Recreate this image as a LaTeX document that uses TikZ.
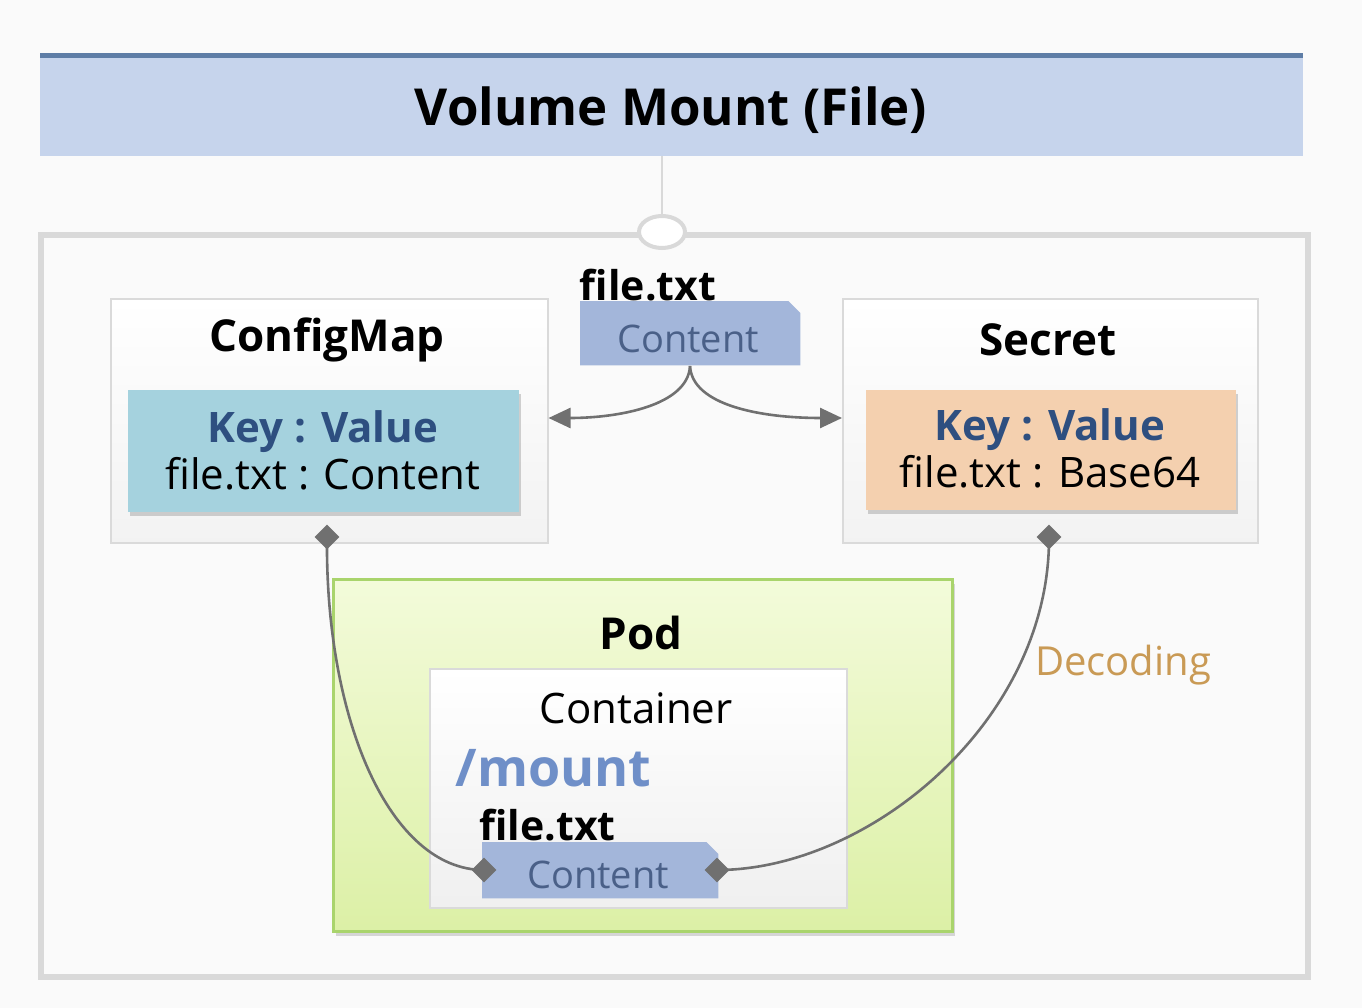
\documentclass[tikz,border=0pt]{standalone}
\usepackage{fontspec}
\setmainfont{Open Sans}
\usetikzlibrary{shapes.geometric,shadows,arrows.meta}
\definecolor{bg}{HTML}{FAFAFA}
\definecolor{titlefill}{HTML}{C6D4EC}
\definecolor{titleline}{HTML}{5E7DA6}
\definecolor{framecol}{HTML}{D9D9D9}
\definecolor{boxborder}{HTML}{DADADA}
\definecolor{tealfill}{HTML}{A5D2DE}
\definecolor{peachfill}{HTML}{F4D0AF}
\definecolor{keyblue}{HTML}{2E4F80}
\definecolor{contentfill}{HTML}{A3B6DA}
\definecolor{contenttext}{HTML}{4A6088}
\definecolor{conn}{HTML}{707070}
\definecolor{podtop}{HTML}{F3FBDA}
\definecolor{podbot}{HTML}{DCF0A6}
\definecolor{podborder}{HTML}{A9D46C}
\definecolor{mountblue}{HTML}{6F8FC8}
\definecolor{decod}{HTML}{C99A55}
\tikzset{
  panel/.style={draw=boxborder, line width=1.5pt, top color=white, bottom color=black!5, anchor=north west, inner sep=0pt},
  kvbox/.style={anchor=north west, inner sep=0pt, drop shadow={shadow xshift=2pt, shadow yshift=-4pt, opacity=0.35}},
  contentbox/.style={inner sep=0pt, anchor=north west},
  conline/.style={draw=conn, line width=2.6pt},
  dia/.style={diamond, fill=conn, minimum size=25pt, inner sep=0pt},
  bigbold/.style={font=\fontsize{44}{48}\selectfont\bfseries},
  kvtext/.style={font=\fontsize{42}{47}\selectfont, align=center},
}
\newcommand{\snipfill}[1]{\fill[contentfill] (#1.north west) -- ([xshift=-12pt]#1.north east) -- ([yshift=-12pt]#1.north east) -- (#1.south east) -- (#1.south west) -- cycle;}
\begin{document}
\begin{tikzpicture}[x=1pt,y=-1pt]
\useasboundingbox (0,0) rectangle (1362,1008);
\fill[bg] (0,0) rectangle (1362,1008);
% title
\node[fill=titlefill, minimum width=1263pt, minimum height=100pt, anchor=north west, inner sep=0pt] (title) at (40,56) {};
\draw[titleline, line width=5pt] (40,56) -- (1303,56);
\node[font=\fontsize{51}{54}\selectfont\bfseries] (titletext) at (671,110) {Volume Mount (File)};
% outer frame
\node[draw=framecol, line width=6pt, fill=bg, minimum width=1267pt, minimum height=742pt, anchor=north west, inner sep=0pt] (frame) at (38,232) {};
\draw[framecol, line width=2pt] (title.south -| 662,0) -- (662,217);
\node[ellipse, draw=framecol, line width=4pt, fill=white, minimum width=46pt, minimum height=32pt, inner sep=0pt] (port) at (662,232) {};
% ConfigMap
\node[panel, minimum width=437pt, minimum height=244pt] (cm) at (110,298) {};
\node[bigbold] (cmtitle) at (327,340) {ConfigMap};
\node[kvbox, fill=tealfill, minimum width=391pt, minimum height=122pt] (cmkv) at (128,390) {};
\node[kvtext] (cmkvtext) at (323,450) {\textcolor{keyblue}{\bfseries Key : Value}\\ file.txt : Content};
% Secret
\node[panel, minimum width=415pt, minimum height=244pt] (sec) at (842,298) {};
\node[bigbold] (sectitle) at (1048,340) {Secret};
\node[kvbox, fill=peachfill, minimum width=370pt, minimum height=120pt] (seckv) at (866,390) {};
\node[kvtext] (seckvtext) at (1050,448) {\textcolor{keyblue}{\bfseries Key : Value}\\ file.txt : Base64};
% top file
\node[font=\fontsize{41}{44}\selectfont\bfseries] (topfile) at (648,285) {file.txt};
\node[contentbox, minimum width=220pt, minimum height=64pt] (topcontent) at (580,301) {};
\snipfill{topcontent}
\node[font=\fontsize{38}{40}\selectfont, text=contenttext] (topcontenttext) at (688,339) {Content};
\coordinate (split) at (690,366);
\draw[conline, -{Triangle[length=22pt,width=20pt]}] (split) .. controls (688,405) and (620,418) .. (cm.east |- 0,418);
\draw[conline, -{Triangle[length=22pt,width=20pt]}] (split) .. controls (692,405) and (760,418) .. (sec.west |- 0,418);
% Pod
\node[draw=podborder, line width=3pt, top color=podtop, bottom color=podbot, minimum width=619pt, minimum height=352pt, anchor=north west, inner sep=0pt, drop shadow={shadow xshift=2pt, shadow yshift=-4pt, opacity=0.3}] (pod) at (332,578) {};
\node[bigbold] (podtitle) at (641,633) {Pod};
\node[draw=boxborder, line width=1.5pt, top color=white, bottom color=black!6, minimum width=417pt, minimum height=239pt, anchor=north west, inner sep=0pt] (cont) at (429,668) {};
\node[font=\fontsize{42}{46}\selectfont] (conttitle) at (636,708) {Container};
\node[font=\fontsize{52}{56}\selectfont\bfseries, text=mountblue, anchor=west] (mount) at (452,768) {/mount};
\node[font=\fontsize{41}{44}\selectfont\bfseries, anchor=west] (podfile) at (476,825) {file.txt};
\node[contentbox, minimum width=236pt, minimum height=56pt] (podcontent) at (482,842) {};
\snipfill{podcontent}
\node[font=\fontsize{38}{40}\selectfont, text=contenttext] (podcontenttext) at (598,875) {Content};
% connectors
\node[dia] (cmport) at (327,537) {};
\node[dia] (secport) at (1049,537) {};
\node[dia] (pinL) at (484,870) {};
\node[dia] (pinR) at (717,870) {};
\draw[conline] (cmport.center) .. controls (325,720) and (390,870) .. (pinL.center);
\draw[conline] (secport.center) .. controls (1050,720) and (870,870) .. (pinR.center);
\node[font=\fontsize{40}{44}\selectfont, text=decod] (decoding) at (1123,665) {Decoding};
\end{tikzpicture}
\end{document}
